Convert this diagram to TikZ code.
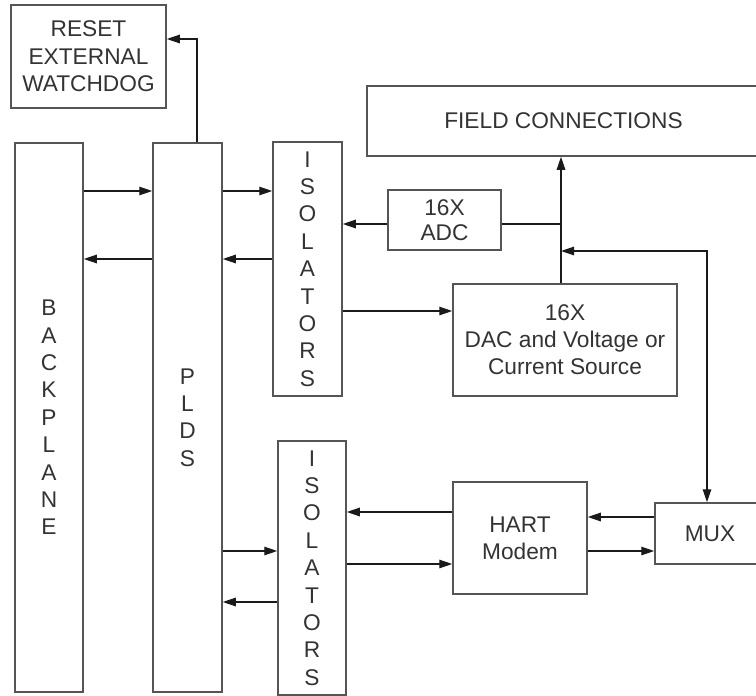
\documentclass[tikz,border=0pt]{standalone}
\usepackage{fontspec}
\setmainfont{Liberation Sans}
\usetikzlibrary{arrows.meta}
\definecolor{linec}{HTML}{1A1A1A}
\definecolor{boxc}{HTML}{555555}
\definecolor{textc}{HTML}{333333}
\begin{document}
\begin{tikzpicture}[x=1pt,y=-1pt,
  box/.style={draw=boxc, line width=1.5pt, rectangle, inner sep=0pt, text=textc, align=center,
    font=\fontsize{22.7}{27.4}\selectfont},
  conn/.style={draw=linec, line width=1.3pt},
  arr/.style={conn, -{Triangle[length=13pt,width=8.5pt]}},
  darr/.style={conn, {Triangle[length=13pt,width=8.5pt]}-{Triangle[length=13pt,width=8.5pt]}}]
\useasboundingbox (0,0) rectangle (756,696);

\node[box, minimum width=155pt, minimum height=103pt] (rst) at (88.5,56.5) {RESET\\EXTERNAL\\WATCHDOG};
\node[box, minimum width=393pt, minimum height=70pt] (fc) at (563.5,121) {FIELD CONNECTIONS};
\node[box, minimum width=68pt, minimum height=549pt] (bp) at (49,417.5) {B\\A\\C\\K\\P\\L\\A\\N\\E};
\node[box, minimum width=69pt, minimum height=549pt] (plds) at (187.5,417.5) {P\\L\\D\\S};
\node[box, minimum width=69pt, minimum height=254pt] (iso1) at (307.5,269) {I\\S\\O\\L\\A\\T\\O\\R\\S};
\node[box, minimum width=113pt, minimum height=60pt, font=\fontsize{22.7}{25.5}\selectfont] (adc) at (444.5,220) {16X\\ADC};
\node[box, minimum width=224pt, minimum height=112pt, font=\fontsize{22.7}{27}\selectfont] (dac) at (565,340) {16X\\DAC and Voltage or\\Current Source};
\node[box, minimum width=68pt, minimum height=254pt] (iso2) at (312,568) {I\\S\\O\\L\\A\\T\\O\\R\\S};
\node[box, minimum width=134pt, minimum height=112pt, font=\fontsize{22.7}{27}\selectfont] (hart) at (520,538) {HART\\Modem};
\node[box, minimum width=110pt, minimum height=61pt] (mux) at (710,533.5) {MUX};

% PLDS -> reset watchdog
\draw[arr] (197,0 |- plds.north) |- (rst.east |- 0,39);
% backplane <-> PLDS
\draw[arr] (bp.east |- 0,191) -- (plds.west |- 0,191);
\draw[arr] (plds.west |- 0,259) -- (bp.east |- 0,259);
% PLDS <-> isolators (upper)
\draw[arr] (plds.east |- 0,191) -- (iso1.west |- 0,191);
\draw[arr] (iso1.west |- 0,259) -- (plds.east |- 0,259);
% ADC -> isolators
\draw[arr] (adc.west |- 0,224) -- (iso1.east |- 0,224);
% isolators -> DAC
\draw[arr] (iso1.east |- 0,311) -- (dac.west |- 0,311);
% DAC -> field connections
\draw[arr] (561,0 |- dac.north) -- (561,0 |- fc.south);
% ADC tap
\draw[conn] (adc.east |- 0,224) -- (561,224);
% MUX <-> bus
\draw[darr] (561,251) -| (707,0 |- mux.north);
% PLDS <-> isolators (lower)
\draw[arr] (plds.east |- 0,551) -- (iso2.west |- 0,551);
\draw[arr] (iso2.west |- 0,602) -- (plds.east |- 0,602);
% HART <-> isolators
\draw[arr] (hart.west |- 0,512) -- (iso2.east |- 0,512);
\draw[arr] (iso2.east |- 0,564) -- (hart.west |- 0,564);
% MUX <-> HART
\draw[arr] (mux.west |- 0,517) -- (hart.east |- 0,517);
\draw[arr] (hart.east |- 0,551) -- (mux.west |- 0,551);
\end{tikzpicture}
\end{document}
